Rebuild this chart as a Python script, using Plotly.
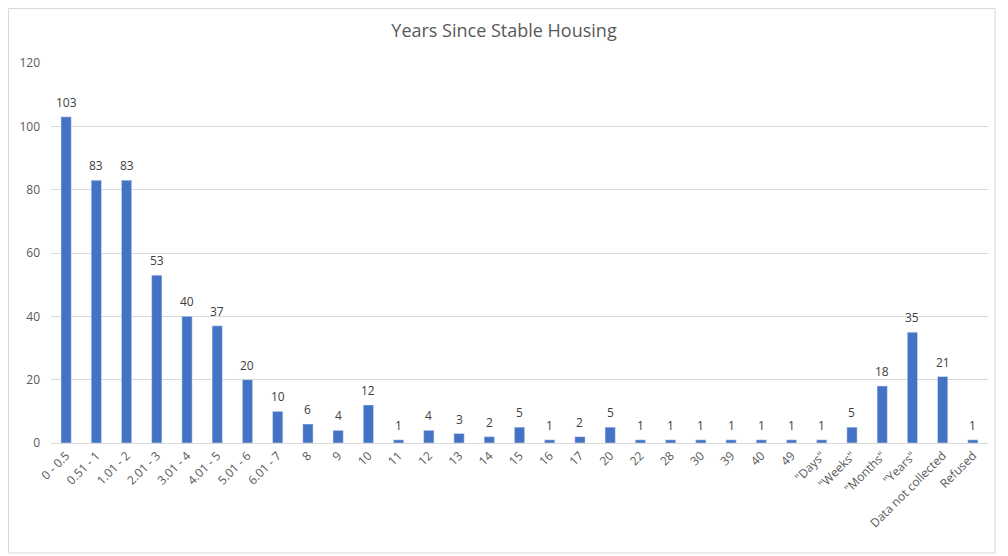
import plotly.graph_objects as go

categories = ["0 - 0.5", "0.51 - 1", "1.01 - 2", "2.01 - 3", "3.01 - 4", "4.01 - 5",
              "5.01 - 6", "6.01 - 7", "8", "9", "10", "11", "12", "13", "14", "15",
              "16", "17", "20", "22", "28", "30", "39", "40", "49",
              "\"Days\"", "\"Weeks\"", "\"Months\"", "\"Years\"", "Data not collected", "Refused"]
values = [103, 83, 83, 53, 40, 37, 20, 10, 6, 4, 12, 1, 4, 3, 2, 5,
          1, 2, 5, 1, 1, 1, 1, 1, 1, 1, 5, 18, 35, 21, 1]
y_ticks = [0, 20, 40, 60, 80, 100, 120]

# the page adds an 8px body margin; compensate
OFF = 8
W, H = 1008 - OFF, 556 - OFF
ml, mr, mt, mb = 51 - OFF, 20, 63 - OFF, 113
FONT = "Open Sans, Liberation Sans, sans-serif"

fig = go.Figure()
fig.add_trace(go.Bar(
    x=categories, y=values,
    marker_color="#4472C4",
    width=0.34,
))
for i, v in enumerate(values):
    fig.add_annotation(x=i, y=v, text=str(v), showarrow=False,
                       yanchor="bottom", yshift=4,
                       font=dict(size=12, color="#404040", family=FONT))

pw = W - ml - mr
ph = H - mt - mb
fig.add_shape(type="rect", xref="paper", yref="paper",
              x0=(0.5 - ml) / pw, x1=(995 - OFF - ml) / pw,
              y0=(H - mb - (553 - OFF)) / ph, y1=(H - mb - 0.5) / ph,
              line=dict(color="#D9D9D9", width=1), layer="below")

fig.update_layout(
    width=W, height=H,
    margin=dict(l=ml, r=mr, t=mt, b=mb, autoexpand=False),
    paper_bgcolor="white", plot_bgcolor="white",
    title=dict(text="Years Since Stable Housing", x=(504 - OFF) / W, xanchor="center",
               y=1 - (31 - OFF) / H, yanchor="middle",
               font=dict(size=18, color="#595959", family=FONT)),
    font=dict(family=FONT, color="#595959", size=12),
    showlegend=False,
    xaxis=dict(tickangle=-45, showline=True, linecolor="#D9D9D9", linewidth=1,
               tickfont=dict(size=12, color="#595959"), ticks="", automargin=False,
               range=[-0.5, len(categories) - 0.5]),
    yaxis=dict(range=[0, 120], tickvals=y_ticks, showgrid=True, gridcolor="#D9D9D9",
               zeroline=False, showline=False, tickfont=dict(size=12, color="#595959"),
               ticklabelstandoff=10, automargin=False),
    bargap=0.66,
)

fig.write_html("out.html")
